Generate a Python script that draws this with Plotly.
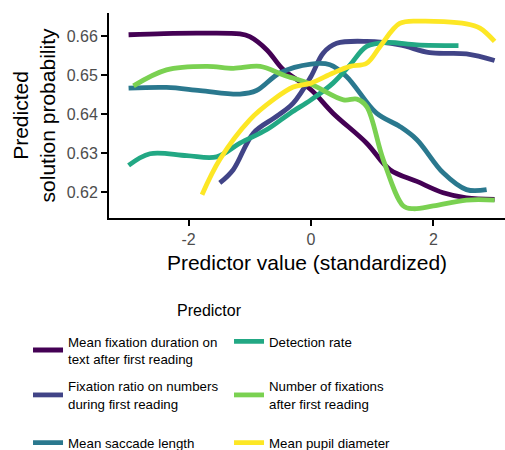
import plotly.graph_objects as go

names = [
    "Mean fixation duration on<br>text after first reading",
    "Fixation ratio on numbers<br>during first reading",
    "Mean saccade length",
    "Detection rate",
    "Number of fixations<br>after first reading",
    "Mean pupil diameter",
]
colors = ["#440154", "#414487", "#2A788E", "#22A884", "#7AD151", "#FDE725"]

fix_dur_x = [-2.98, -2.4, -1.8, -1.16, -1.0, -0.72, -0.45, 0.0, 0.36, 0.91, 1.29, 1.73, 2.16, 2.54, 3.0]
fix_dur_y = [0.6603, 0.6606, 0.6607, 0.6605, 0.6598, 0.6564, 0.6513, 0.6462, 0.6402, 0.6325, 0.6257, 0.6227, 0.6198, 0.6185, 0.6181]

fix_ratio_x = [-1.49, -1.27, -0.94, -0.56, -0.29, 0.0, 0.2, 0.42, 0.91, 1.45, 1.94, 2.54, 3.0]
fix_ratio_y = [0.6223, 0.6257, 0.6351, 0.6394, 0.6428, 0.6496, 0.6556, 0.6581, 0.6586, 0.6577, 0.6557, 0.6554, 0.6537]

saccade_x = [-2.98, -2.36, -1.81, -1.16, -0.89, -0.51, 0.0, 0.31, 0.58, 1.07, 1.45, 1.73, 2.16, 2.54, 2.87]
saccade_y = [0.6466, 0.6468, 0.6460, 0.6451, 0.6460, 0.6505, 0.6528, 0.6526, 0.6496, 0.6402, 0.6368, 0.6334, 0.6249, 0.6206, 0.6206]

detect_x = [-2.98, -2.63, -2.03, -1.54, -1.16, -0.72, -0.34, 0.0, 0.36, 0.64, 0.91, 1.24, 1.73, 2.41]
detect_y = [0.6268, 0.6298, 0.6293, 0.6290, 0.6325, 0.6360, 0.6402, 0.6436, 0.6479, 0.6526, 0.6573, 0.6583, 0.6577, 0.6575]

nfix_x = [-2.90, -2.36, -1.7, -1.27, -0.83, -0.45, 0.0, 0.53, 0.75, 0.91, 1.18, 1.51, 1.67, 2.0, 2.54, 3.0]
nfix_y = [0.6472, 0.6513, 0.6522, 0.6517, 0.6522, 0.6500, 0.6476, 0.6436, 0.6438, 0.6419, 0.6283, 0.6164, 0.6157, 0.6164, 0.6179, 0.6179]

pupil_x = [-1.78, -1.49, -1.0, -0.62, -0.29, 0.0, 0.36, 0.64, 0.91, 1.13, 1.45, 1.78, 2.54, 2.76, 3.0]
pupil_y = [0.6193, 0.6283, 0.6385, 0.6436, 0.6469, 0.6479, 0.6505, 0.6522, 0.6530, 0.6573, 0.6632, 0.6638, 0.6631, 0.6620, 0.6586]

series = [
    (fix_dur_x, fix_dur_y),
    (fix_ratio_x, fix_ratio_y),
    (saccade_x, saccade_y),
    (detect_x, detect_y),
    (nfix_x, nfix_y),
    (pupil_x, pupil_y),
]

x_ticks = [-2, 0, 2]
y_ticks = [0.62, 0.63, 0.64, 0.65, 0.66]

# The reference legend fills column-wise: three rows of two entries
legend_row = ["legend", "legend2", "legend3", "legend", "legend2", "legend3"]

fig = go.Figure()
for i, ((xs, ys), name, col) in enumerate(zip(series, names, colors)):
    fig.add_trace(go.Scatter(
        x=xs, y=ys, mode="lines", name=name,
        line=dict(color=col, width=4.8, shape="spline", smoothing=1.0),
        legend=legend_row[i],
    ))

font = "Liberation Sans, Arial, sans-serif"
leg_common = dict(
    orientation="h", xanchor="left", yanchor="middle",
    entrywidth=156, entrywidthmode="pixels",
    font=dict(size=13.3, color="black"),
    itemwidth=30, bgcolor="rgba(0,0,0,0)",
)
leg_x = -0.2045
fig.update_layout(
    width=505, height=450,
    margin=dict(l=109, r=0, t=13, b=231.5, autoexpand=False),
    plot_bgcolor="white", paper_bgcolor="white",
    font=dict(family=font, size=16, color="black"),
    xaxis=dict(
        range=[-3.30, 3.17], tickvals=x_ticks, ticktext=["-2", "0", "2"],
        showgrid=False, zeroline=False, showline=True, linecolor="black", linewidth=2,
        ticks="outside", ticklen=6, tickwidth=1.5, tickcolor="black",
        tickfont=dict(size=16, color="#4d4d4d"), automargin=False,
        title=dict(text="Predictor value (standardized)", font=dict(size=21), standoff=8),
    ),
    yaxis=dict(
        range=[0.61332, 0.66588], tickvals=y_ticks, ticktext=["0.62", "0.63", "0.64", "0.65", "0.66"],
        showgrid=False, zeroline=False, showline=True, linecolor="black", linewidth=2,
        ticks="outside", ticklen=6, tickwidth=1.5, tickcolor="black",
        tickfont=dict(size=16, color="#4d4d4d"), automargin=False,
        title=dict(text="Predicted<br>solution probability", font=dict(size=21), standoff=5),
    ),
    legend=dict(x=leg_x, y=-0.645, **leg_common),
    legend2=dict(x=leg_x, y=-0.864, **leg_common),
    legend3=dict(x=leg_x, y=-1.0977, **leg_common),
    annotations=[dict(
        text="Predictor", x=0.255, y=-0.450, xref="paper", yref="paper",
        xanchor="center", yanchor="middle", showarrow=False,
        font=dict(size=16, color="black"),
    )],
    showlegend=True,
)

fig.write_html("out.html", config={"displayModeBar": False},
               post_script="document.body.style.margin='0';")
